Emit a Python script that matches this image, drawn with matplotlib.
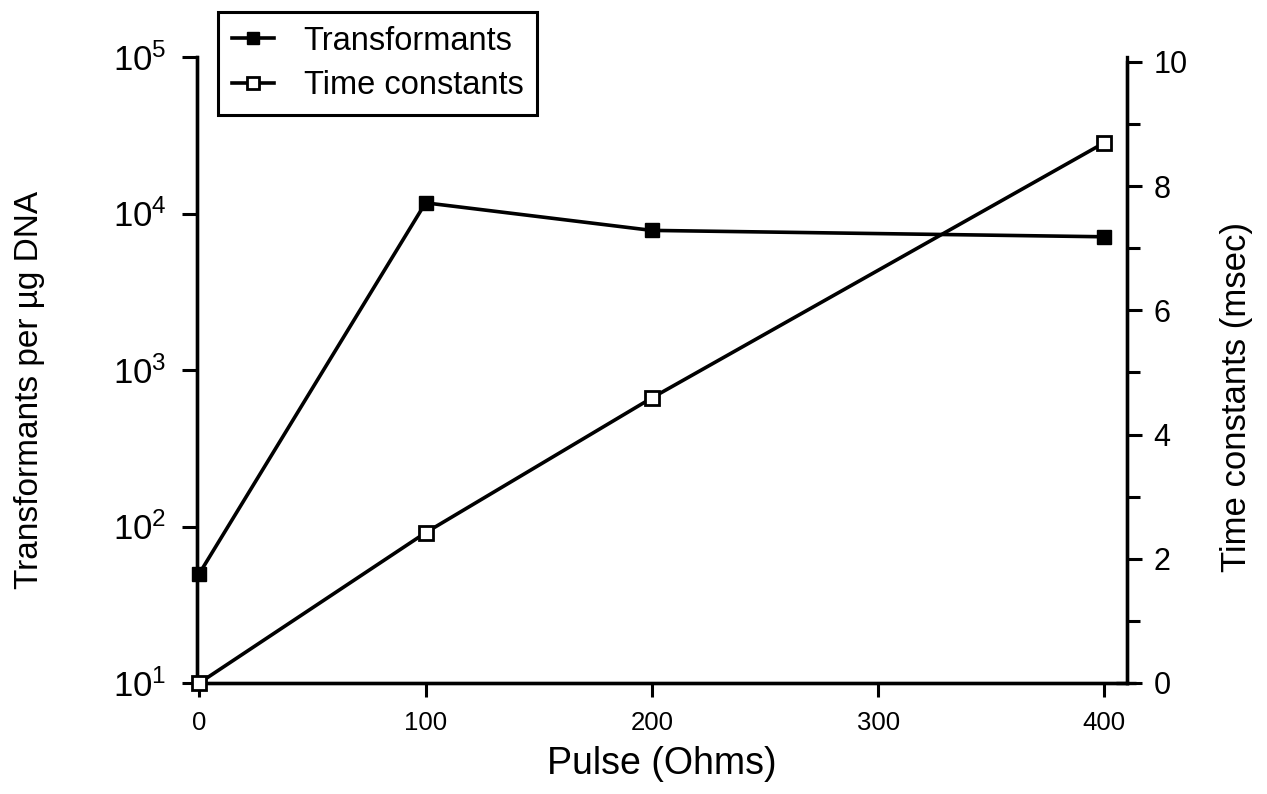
import matplotlib
matplotlib.use('Agg')
import matplotlib.pyplot as plt
from matplotlib.lines import Line2D
from matplotlib.ticker import FixedLocator, NullLocator


pulse_ohms = [0, 100, 200, 400]
transformants = [50, 11700, 7800, 7100]
time_constants = [0.0, 2.42, 4.59, 8.7]

x_ticks = [0, 100, 200, 300, 400]
left_ticks = [1e1, 1e2, 1e3, 1e4, 1e5]
left_tick_labels = ['$10^1$', '$10^2$', '$10^3$', '$10^4$', '$10^5$']
right_ticks = [0, 2, 4, 6, 8, 10]
right_minor = [1, 3, 5, 7, 9]

plt.rcParams['font.family'] = ['Liberation Sans', 'DejaVu Sans']
plt.rcParams['mathtext.fontset'] = 'custom'
plt.rcParams['mathtext.rm'] = 'Liberation Sans'
plt.rcParams['mathtext.it'] = 'Liberation Sans'

fig = plt.figure(figsize=(12.67, 7.94), dpi=100)
ax = fig.add_axes([0.1555, 0.1398, 0.7340, 0.7884])
ax2 = ax.twinx()

lw = 2.6
ax.plot(pulse_ohms, transformants, color='black', lw=lw, marker='s', ms=10,
        mfc='black', mec='black', clip_on=False, zorder=5)
ax2.plot(pulse_ohms, time_constants, color='black', lw=lw, marker='s', ms=10,
         mfc='white', mec='black', mew=2, clip_on=False, zorder=5)

ax.set_xlim(-1, 410)
ax.set_yscale('log')
ax.set_ylim(10, 1e5)
ax.yaxis.set_major_locator(FixedLocator(left_ticks))
ax.yaxis.set_minor_locator(NullLocator())
ax.set_yticklabels(left_tick_labels)
ax.set_xticks(x_ticks)

ax2.set_ylim(0, 10.08)
ax2.set_yticks(right_ticks)
ax2.yaxis.set_minor_locator(FixedLocator(right_minor))

for a in (ax, ax2):
    a.spines['top'].set_visible(False)
    for s in a.spines.values():
        s.set_linewidth(2.4)
ax2.spines['right'].set_bounds(0, 10)
ax.spines['left'].set_bounds(10, 1e5)

ax.tick_params(axis='y', which='major', direction='out', length=11, width=2.2,
               labelsize=25, pad=11)
ax.tick_params(axis='x', which='major', direction='out', length=10, width=2.2,
               labelsize=18.5, pad=10)
ax2.tick_params(axis='y', which='major', direction='out', length=11, width=2.2,
                labelsize=22, pad=8)
ax2.tick_params(axis='y', which='minor', direction='out', length=9, width=2.2)

# bottom line runs a little past the right axis
ax.plot([405, 414], [10, 10], color='black', lw=2.4, clip_on=False,
        solid_capstyle='butt')

ax.set_xlabel('Pulse (Ohms)', fontsize=27, labelpad=8)
ax.set_ylabel('Transformants per µg DNA', fontsize=24)
ax.yaxis.set_label_coords(-0.163, 0.468)
ax2.set_ylabel('Time constants (msec)', fontsize=25)
ax2.yaxis.set_label_coords(1.100, 0.457)

handles = [
    Line2D([], [], color='black', lw=lw, marker='s', ms=9, mfc='black', mec='black'),
    Line2D([], [], color='black', lw=lw, marker='s', ms=9, mfc='white', mec='black', mew=2),
]
leg = fig.legend(handles, ['Transformants', 'Time constants'], loc='upper left',
                 bbox_to_anchor=(218 / 1267, 1 - 12 / 794), borderaxespad=0,
                 frameon=True, fancybox=False, handlelength=1.3,
                 handletextpad=0.9, borderpad=0.42, labelspacing=0.42,
                 prop={'size': 23.5})
leg.get_frame().set_edgecolor('black')
leg.get_frame().set_linewidth(2.2)
leg.get_frame().set_alpha(1)
leg.set_zorder(10)

fig.savefig('out.png', dpi=100)
